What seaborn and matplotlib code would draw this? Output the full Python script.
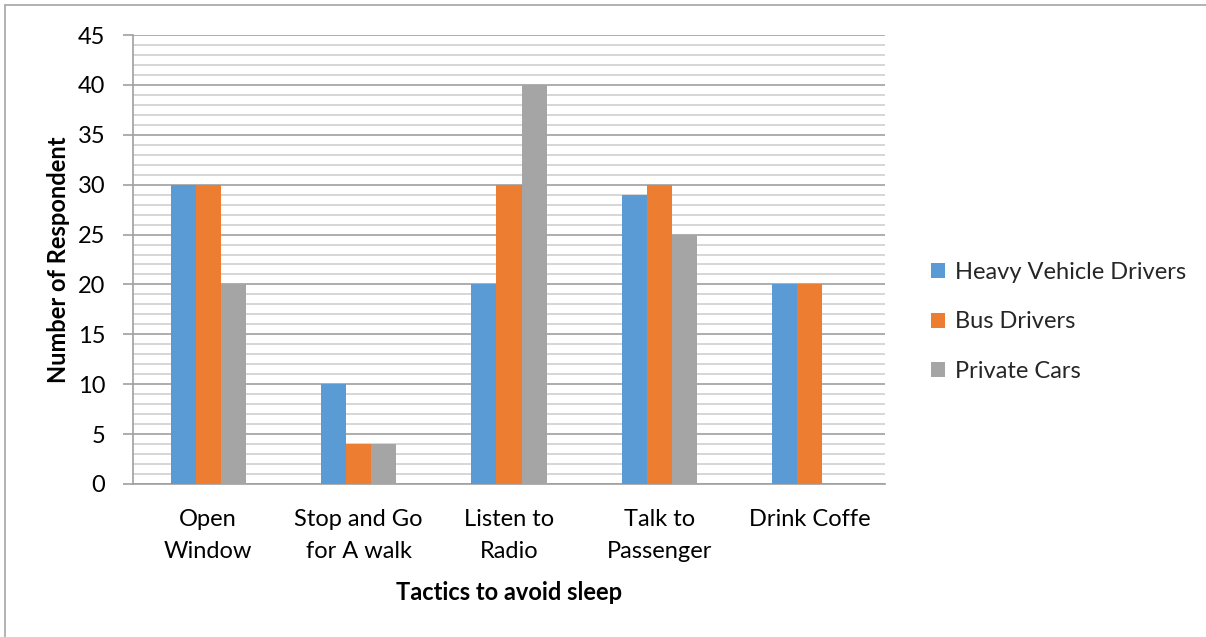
import matplotlib
matplotlib.use("Agg")
import matplotlib.pyplot as plt
import seaborn as sns
import pandas as pd
from matplotlib.lines import Line2D
from matplotlib.ticker import MultipleLocator

categories = ["Open\nWindow", "Stop and Go\nfor A walk", "Listen to\nRadio", "Talk to\nPassenger", "Drink Coffe"]
series_names = ["Heavy Vehicle Drivers", "Bus Drivers", "Private Cars"]
heavy_vehicle = [30, 10, 20, 29, 20]
bus_drivers = [30, 4, 30, 30, 20]
private_cars = [20, 4, 40, 25, 0]
colors = ["#5B9BD5", "#ED7D31", "#A5A5A5"]
y_ticks = [0, 5, 10, 15, 20, 25, 30, 35, 40, 45]

rows = []
for name, vals in zip(series_names, [heavy_vehicle, bus_drivers, private_cars]):
    for c, v in zip(categories, vals):
        rows.append({"Tactic": c, "Series": name, "Value": v})
df = pd.DataFrame(rows)

sns.set_theme(style="white")
plt.rcParams["font.family"] = ["Lato", "DejaVu Sans"]

fig = plt.figure(figsize=(12.06, 6.37), dpi=100)
ax = fig.add_axes([133/1206, 1-484/637, (885-133)/1206, (484-35)/637])

sns.barplot(data=df, x="Tactic", y="Value", hue="Series", order=categories,
            hue_order=series_names, palette=colors, width=0.5, linewidth=0,
            saturation=1, ax=ax, legend=True, zorder=3)

ax.set_ylim(0, 45)
ax.set_xlim(-0.5, len(categories) - 0.5)
ax.set_yticks(y_ticks)
ax.yaxis.set_minor_locator(MultipleLocator(1))
ax.grid(which="minor", axis="y", color="#D0D0D0", linewidth=1.2, zorder=0)
ax.grid(which="major", axis="y", color="#A0A0A0", linewidth=1.2, zorder=0)
ax.grid(False, axis="x")
ax.set_axisbelow(True)

for s in ["top", "right"]:
    ax.spines[s].set_visible(False)
ax.spines["left"].set_color("#A0A0A0")
ax.spines["bottom"].set_color("#A0A0A0")
ax.spines["left"].set_linewidth(1.2)
ax.spines["bottom"].set_linewidth(1.2)

ax.tick_params(axis="y", which="major", left=True, length=7, width=1.2,
               color="#A0A0A0", pad=13, labelsize=17, labelcolor="#000000")
ax.tick_params(axis="y", which="minor", left=False)
ax.tick_params(axis="x", bottom=False, pad=12, labelsize=17, labelcolor="#000000")
for lab in ax.get_xticklabels():
    lab.set_linespacing(1.65)
    lab.set_va("top")

ax.set_xlabel("Tactics to avoid sleep", fontsize=17, fontweight="bold", color="#000000")
ax.set_ylabel("Number of Respondent", fontsize=17, fontweight="bold", color="#000000")
ax.xaxis.set_label_coords(0.5, (484-592)/449)
ax.xaxis.label.set_va("center")
ax.yaxis.set_label_coords((58-133)/752, 0.5)
ax.yaxis.label.set_va("center")

handles, labels = ax.get_legend_handles_labels()
ax.get_legend().remove()
fig.legend(handles, labels, loc="center left", bbox_to_anchor=(910/1206, 1-322/637),
           frameon=False, fontsize=17, handlelength=0.6, handleheight=0.6,
           handletextpad=0.4, labelspacing=1.2)

fig.add_artist(Line2D([5/1206, 5/1206], [0, 1-5/637], transform=fig.transFigure,
                      color="#A6A6A6", linewidth=1.2))
fig.add_artist(Line2D([5/1206, 1], [1-5/637, 1-5/637], transform=fig.transFigure,
                      color="#A6A6A6", linewidth=1.2))

fig.savefig("out.png", dpi=100, facecolor="white")
